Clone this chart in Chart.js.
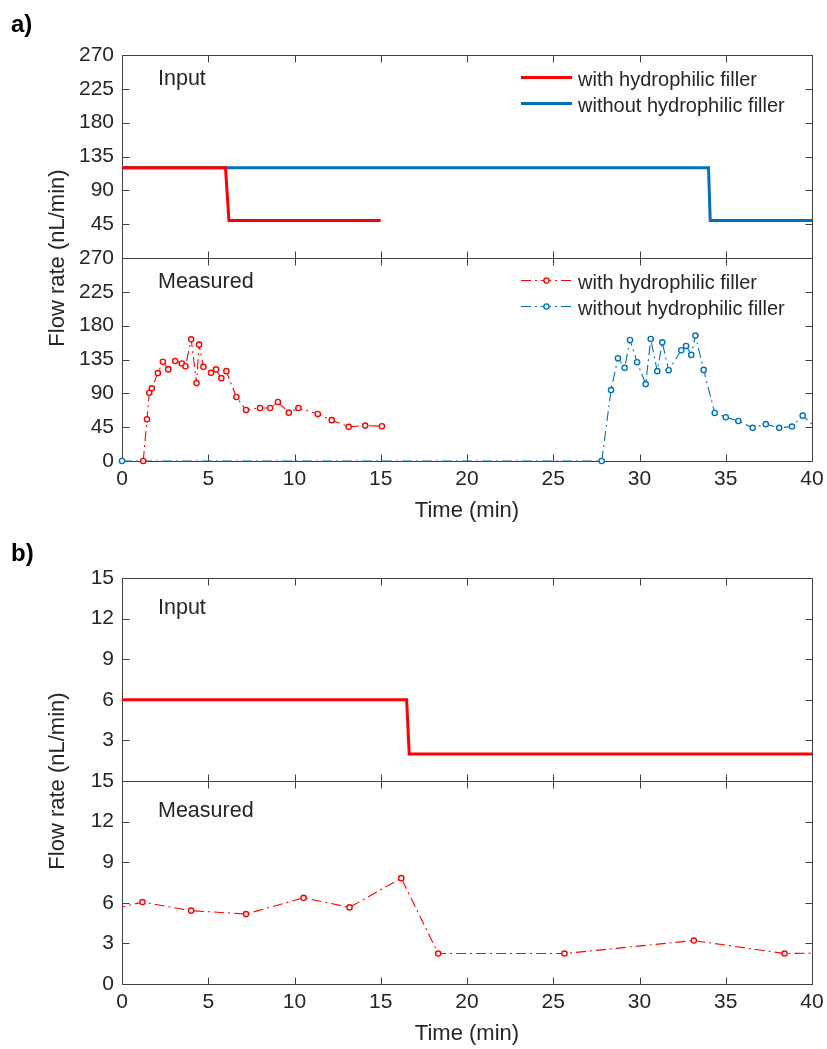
<!DOCTYPE html>
<html>
<head>
<meta charset="utf-8">
<title>Flow rate</title>
<script src="https://cdn.jsdelivr.net/npm/chart.js@4.4.1/dist/chart.umd.min.js"></script>
<style>
  html, body { margin: 0; padding: 0; background: #fff; width: 827px; height: 1049px; overflow: hidden; }
  .panel { position: absolute; left: 0; }
</style>
</head>
<body>
<div class="panel" style="top:0"><canvas id="chartA" width="827" height="531"></canvas></div>
<div class="panel" style="top:525px"><canvas id="chartB" width="827" height="529"></canvas></div>
<script>
// ---- a) input flow rates (nL/min) vs time (min)
const aInWithT    = [0, 6.0, 6.2, 15];
const aInWithQ    = [120, 120, 50, 50];
const aInWithoutT = [0, 34.0, 34.1, 40];
const aInWithoutQ = [120, 120, 50, 50];

// ---- a) measured flow rates
const aMeasWithT = [1.23, 1.45, 1.58, 1.73, 2.08, 2.37, 2.68, 3.08, 3.47, 3.68, 4.01, 4.32, 4.47, 4.72, 5.16,
                    5.45, 5.76, 6.05, 6.63, 7.19, 8.0, 8.59, 9.04, 9.67, 10.23, 11.35, 12.16, 13.14, 14.1, 15.07];
const aMeasWithQ = [0, 55.6, 90.8, 96.6, 117, 132, 121.8, 133, 129.7, 126, 161.9, 103.6, 154.8, 125.2, 117.3,
                    121.8, 110.2, 119.5, 85.1, 67.9, 70.5, 70.5, 78.5, 64.3, 70.5, 62.6, 54.3, 45.4, 47.1, 46.3];
const aMeasWithoutT = [0, 27.81, 28.35, 28.75, 29.14, 29.45, 29.86, 30.36, 30.65, 31.03, 31.32, 31.69, 32.42,
                       32.70, 33.00, 33.24, 33.72, 34.36, 35.00, 35.73, 36.56, 37.32, 38.10, 38.84, 39.46, 40.2];
const aMeasWithoutQ = [0, 0, 94.4, 136.7, 123.9, 161, 131.4, 102.3, 162.3, 119.5, 157.9, 120.8, 147.3,
                       153, 141.1, 166.8, 121.2, 63.9, 58.2, 53.3, 44.1, 49, 44.1, 45.8, 60.3, 45];

// ---- b) input and measured flow rates
const bInT   = [0, 16.5, 16.65, 40];
const bInQ   = [6, 6, 2, 2];
const bMeasT = [-1.5, 1.19, 4.01, 7.19, 10.53, 13.19, 16.19, 18.33, 25.65, 33.15, 38.41, 41.5];
const bMeasQ = [5.24, 6.05, 5.42, 5.17, 6.37, 5.66, 7.82, 2.25, 2.25, 3.21, 2.25, 2.31];

// ---- axis ticks
const timeTicks = [0, 5, 10, 15, 20, 25, 30, 35, 40];
const aFlowTicks = [0, 45, 90, 135, 180, 225, 270];
const bFlowTicks = [0, 3, 6, 9, 12, 15];

const labelWith = 'with hydrophilic filler';
const labelWithout = 'without hydrophilic filler';

const RED = '#ff0000';
const BLUE = '#0072bd';
const INK = '#262626';
const FONT = "'Liberation Sans', Arial, Helvetica, sans-serif";

Chart.defaults.font.family = FONT;
Chart.defaults.color = INK;

const xy = (ts, qs) => ts.map((t, i) => ({ x: t, y: qs[i] }));

function inputSet(label, ts, qs, color) {
  return {
    label, data: xy(ts, qs), yAxisID: 'yIn',
    borderColor: color, borderWidth: 3, pointRadius: 0, tension: 0, fill: false,
    clip: { left: 2, right: 0, top: 0, bottom: 2 }
  };
}
function measuredSet(label, ts, qs, color, clip) {
  return {
    label, data: xy(ts, qs), yAxisID: 'yMeas',
    borderColor: color, borderWidth: 1.1, borderDash: [10, 4, 2, 4],
    pointRadius: 2.6, pointBorderWidth: 1.4, pointBorderColor: color, pointBackgroundColor: '#ffffff',
    pointHoverRadius: 2.6, tension: 0, fill: false, clip
  };
}

// Boxed sub-panels with inward ticks, panel captions, in-axes legends and the shared y title
const framePlugin = {
  id: 'frame',
  beforeDatasetsDraw(chart, args, opts) {
    const ctx = chart.ctx, ca = chart.chartArea, xs = chart.scales.x;
    const TL = 7;
    ctx.save();
    ctx.strokeStyle = '#404040';
    ctx.lineWidth = 1;
    ctx.setLineDash([]);
    for (const id of ['yIn', 'yMeas']) {
      const ys = chart.scales[id];
      const top = Math.round(ys.top) + 0.5, bot = Math.round(ys.bottom) + 0.5;
      const L = Math.round(ca.left) + 0.5, R = Math.round(ca.right) + 0.5;
      ctx.strokeRect(L, top, R - L, bot - top);
      ctx.beginPath();
      xs.ticks.forEach(t => {
        const px = Math.round(xs.getPixelForValue(t.value)) + 0.5;
        ctx.moveTo(px, top); ctx.lineTo(px, top + TL);
        ctx.moveTo(px, bot); ctx.lineTo(px, bot - TL);
      });
      ys.ticks.forEach(t => {
        const py = Math.round(ys.getPixelForValue(t.value)) + 0.5;
        ctx.moveTo(L, py); ctx.lineTo(L + TL, py);
        ctx.moveTo(R, py); ctx.lineTo(R - TL, py);
      });
      ctx.stroke();
    }
    ctx.restore();
  },
  afterDraw(chart, args, opts) {
    const ctx = chart.ctx, ca = chart.chartArea;
    const yIn = chart.scales.yIn, yMeas = chart.scales.yMeas;
    ctx.save();
    ctx.fillStyle = INK;

    // panel captions
    ctx.font = `21.5px ${FONT}`;
    ctx.textAlign = 'left';
    ctx.textBaseline = 'alphabetic';
    ctx.fillText('Input', ca.left + 36, yIn.top + opts.captionBaseline);
    ctx.fillText('Measured', ca.left + 36, yMeas.top + opts.captionBaseline);

    // legends
    if (opts.legend) {
      for (const id of ['yIn', 'yMeas']) {
        const ys = chart.scales[id];
        const sets = chart.data.datasets.filter(d => d.yAxisID === id);
        sets.forEach((ds, i) => {
          const ly = ys.top + 22.5 + i * 26;
          ctx.strokeStyle = ds.borderColor;
          ctx.lineWidth = ds.borderWidth;
          ctx.setLineDash(ds.borderDash || []);
          ctx.beginPath();
          ctx.moveTo(521, ly); ctx.lineTo(572, ly);
          ctx.stroke();
          ctx.setLineDash([]);
          if (ds.pointRadius > 0) {
            ctx.beginPath();
            ctx.arc(546.5, ly, ds.pointRadius, 0, Math.PI * 2);
            ctx.fillStyle = ds.pointBackgroundColor;
            ctx.fill();
            ctx.lineWidth = ds.pointBorderWidth;
            ctx.strokeStyle = ds.pointBorderColor;
            ctx.stroke();
          }
          ctx.fillStyle = INK;
          ctx.font = `20px ${FONT}`;
          ctx.textBaseline = 'alphabetic';
          ctx.fillText(ds.label, 578, ly + 8);
        });
      }
    }

    // shared y-axis title
    ctx.font = `22px ${FONT}`;
    ctx.textAlign = 'center';
    ctx.textBaseline = 'middle';
    ctx.translate(58, yIn.bottom);
    ctx.rotate(-Math.PI / 2);
    ctx.fillText('Flow rate (nL/min)', 0, 0);
    ctx.setTransform(1, 0, 0, 1, 0, 0);

    // figure letter
    ctx.font = `bold 24px ${FONT}`;
    ctx.textAlign = 'left';
    ctx.textBaseline = 'alphabetic';
    ctx.fillStyle = '#000';
    ctx.fillText(opts.letter, 11, opts.letterBaseline);
    ctx.restore();
  }
};

function makeChart(canvasId, cfg) {
  const tickFont = { size: 21 };
  const yCommon = (ticks, hideZero) => ({
    type: 'linear', position: 'left', stack: 'flow', stackWeight: 1,
    min: ticks[0], max: ticks[ticks.length - 1],
    afterFit(s) { s.width = 122; },
    afterBuildTicks(s) { s.ticks = ticks.map(v => ({ value: v })); },
    grid: { display: false, drawTicks: false },
    border: { display: false },
    ticks: {
      padding: 8, font: tickFont, color: INK, autoSkip: false,
      callback: v => (hideZero && v === 0) ? '' : String(v)
    }
  });
  return new Chart(document.getElementById(canvasId), {
    type: 'line',
    data: { datasets: cfg.datasets },
    options: {
      responsive: false, animation: false, devicePixelRatio: 1,
      events: [],
      layout: { padding: { left: 0, right: 15, top: cfg.padTop, bottom: 0 } },
      plugins: {
        legend: { display: false },
        tooltip: { enabled: false },
        frame: { letter: cfg.letter, letterBaseline: cfg.letterBaseline, captionBaseline: cfg.captionBaseline, legend: cfg.legend }
      },
      scales: {
        x: {
          type: 'linear', min: 0, max: 40,
          afterFit(s) { s.height = 70; s.paddingLeft = 0; s.paddingRight = 0; },
          afterBuildTicks(s) { s.ticks = timeTicks.map(v => ({ value: v })); },
          grid: { display: false, drawTicks: false },
          border: { display: false },
          ticks: { padding: 6, font: tickFont, color: INK, maxRotation: 0, autoSkip: false },
          title: { display: true, text: 'Time (min)', font: { size: 22 }, color: INK, padding: { top: 0, bottom: 7 } }
        },
        // the stack lays out the last-listed left axis at the top
        yMeas: yCommon(cfg.flowTicks, false),
        yIn: yCommon(cfg.flowTicks, true)
      }
    },
    plugins: [framePlugin]
  });
}

makeChart('chartA', {
  padTop: 55, letter: 'a)', letterBaseline: 32, captionBaseline: 29.5, legend: true,
  flowTicks: aFlowTicks,
  datasets: [
    inputSet(labelWith, aInWithT, aInWithQ, RED),
    inputSet(labelWithout, aInWithoutT, aInWithoutQ, BLUE),
    measuredSet(labelWith, aMeasWithT, aMeasWithQ, RED, { left: 6, right: 6, top: 0, bottom: 6 }),
    measuredSet(labelWithout, aMeasWithoutT, aMeasWithoutQ, BLUE, { left: 6, right: 0, top: 0, bottom: 6 })
  ]
});

makeChart('chartB', {
  padTop: 53, letter: 'b)', letterBaseline: 35.5, captionBaseline: 35.5, legend: false,
  flowTicks: bFlowTicks,
  datasets: [
    inputSet(labelWith, bInT, bInQ, RED),
    measuredSet(labelWith, bMeasT, bMeasQ, RED, { left: 0, right: 0, top: 0, bottom: 0 })
  ]
});
</script>
</body>
</html>
